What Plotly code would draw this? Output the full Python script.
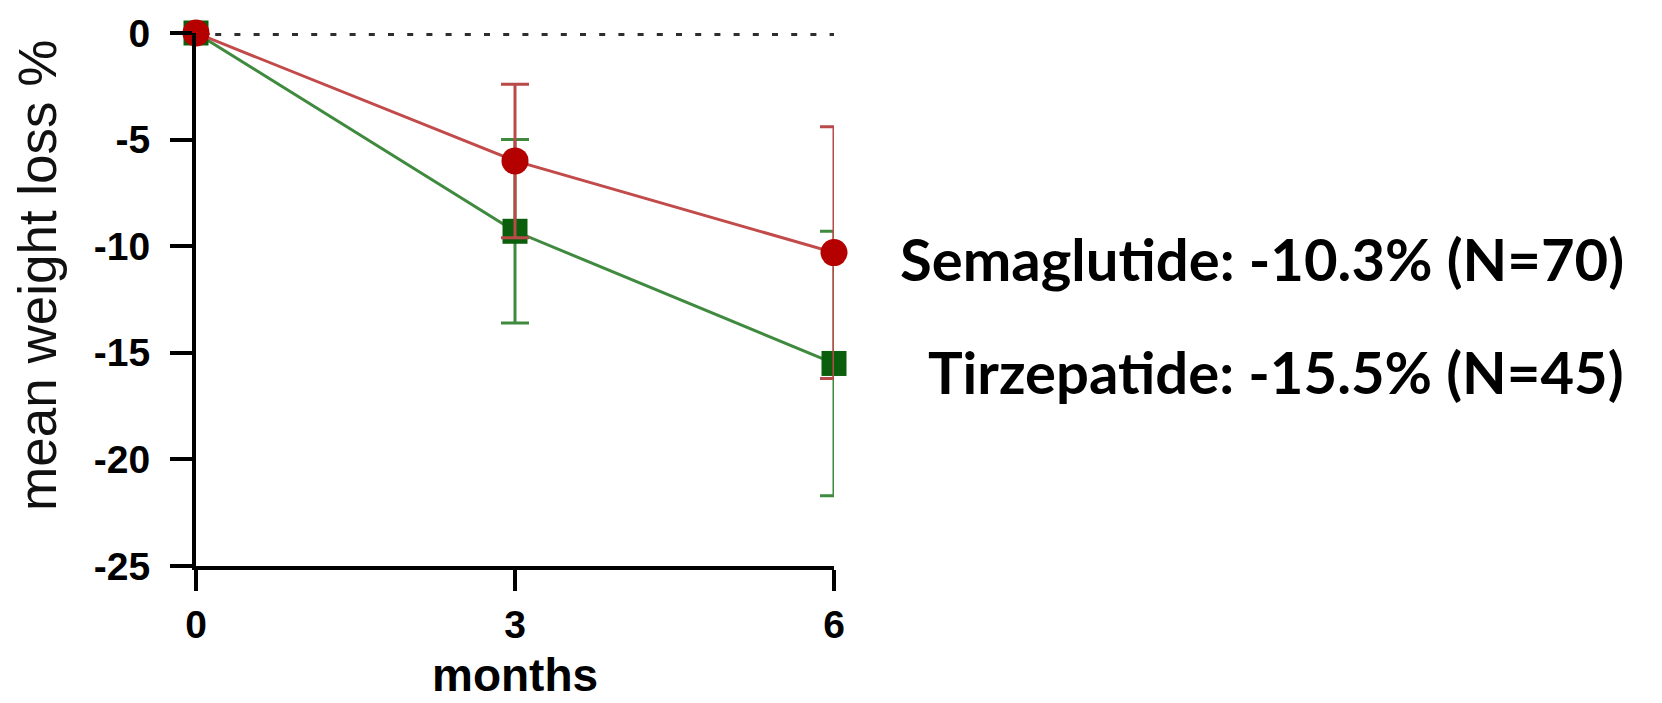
import plotly.graph_objects as go

# Follow-up time points (months)
months = [0, 3, 6]

# Mean weight change (%) with error-bar half widths
sema_mean = [0.0, -6.0, -10.3]
sema_err = [0.0, 3.6, 5.9]
tirz_mean = [0.0, -9.3, -15.5]
tirz_err = [0.0, 4.3, 6.2]

# Summary labels shown to the right of the plot
summary_labels = [
    "Semaglutide: -10.3% (N=70)",
    "Tirzepatide: -15.5% (N=45)",
]

y_ticks = [0, -5, -10, -15, -20, -25]

W, H = 1662, 703
L, R, T, B = 196, 828, 24, 137
plot_w = W - L - R
plot_h = H - T - B


def px_x(px):
    return (px - L) / plot_w


def px_y(py):
    return (H - B - py) / plot_h


fig = go.Figure()

# Tirzepatide (green squares) drawn first, Semaglutide on top
fig.add_trace(go.Scatter(
    x=months, y=tirz_mean,
    mode="lines+markers",
    line=dict(color="#3f8a3f", width=3),
    marker=dict(symbol="square", size=25, color="#0b5e0b"),
    error_y=dict(type="data", array=tirz_err, visible=True,
                 color="#3f8a3f", thickness=3, width=14),
    cliponaxis=False,
    showlegend=False,
))
fig.add_trace(go.Scatter(
    x=months, y=sema_mean,
    mode="lines+markers",
    line=dict(color="#c24a4a", width=3),
    marker=dict(symbol="circle", size=27, color="#b50000"),
    error_y=dict(type="data", array=sema_err, visible=True,
                 color="#b94a4a", thickness=3, width=14),
    cliponaxis=False,
    showlegend=False,
))

# Dotted reference line at zero change
fig.add_shape(type="line", xref="x", yref="y",
              x0=0, x1=6, y0=0, y1=0,
              line=dict(color="#2e2e2e", width=6, dash="6px,13.2px"),
              layer="below")

tick_font = dict(family="Liberation Sans", size=39, color="black", weight=700)

fig.update_xaxes(
    range=[0, 6], tickvals=months, ticktext=[str(m) for m in months],
    showline=True, linecolor="black", linewidth=4,
    ticks="outside", ticklen=21, tickwidth=4, tickcolor="black",
    showgrid=False, zeroline=False, tickfont=tick_font,
    ticklabelstandoff=0,
)
fig.update_yaxes(
    range=[-25, 0], tickvals=y_ticks, ticktext=[str(v) for v in y_ticks],
    showline=True, linecolor="black", linewidth=4,
    ticks="outside", ticklen=22, tickwidth=4, tickcolor="black",
    showgrid=False, zeroline=False, tickfont=tick_font,
    ticklabelstandoff=12,
)

annotations = [
    dict(text="months", xref="x", yref="paper", x=3, y=px_y(677),
         xanchor="center", yanchor="middle", showarrow=False,
         font=dict(family="Liberation Sans", size=46, color="black", weight=700)),
    dict(text="mean weight loss %", xref="paper", yref="paper",
         x=px_x(38), y=px_y(271), textangle=-90,
         xanchor="center", yanchor="middle", showarrow=False,
         font=dict(family="Liberation Sans", size=53, color="#111111")),
]
for label, cy in zip(summary_labels, [253, 368]):
    annotations.append(dict(
        text=label, xref="paper", yref="paper",
        x=px_x(1626), y=px_y(cy), xanchor="right", yanchor="middle",
        showarrow=False,
        font=dict(family="Lato", size=58, color="black", weight=700),
    ))

fig.update_layout(
    width=W, height=H, autosize=False,
    margin=dict(l=L, r=R, t=T, b=B, pad=0),
    paper_bgcolor="white", plot_bgcolor="white",
    annotations=annotations,
)

fig.write_html("out.html")
